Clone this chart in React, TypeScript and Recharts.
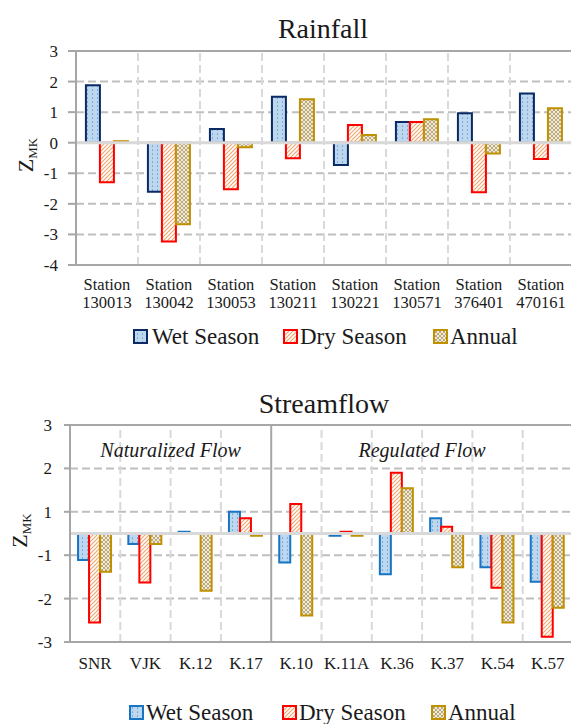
import React from 'react';
import { BarChart, Bar, XAxis, YAxis, CartesianGrid, ReferenceLine } from 'recharts';

// ---------- Rainfall data ----------
const rainStations = ['130013', '130042', '130053', '130211', '130221', '130571', '376401', '470161'];
const rainWet = [1.88, -1.6, 0.45, 1.5, -0.73, 0.68, 0.96, 1.61];
const rainDry = [-1.29, -3.23, -1.52, -0.51, 0.58, 0.68, -1.62, -0.53];
const rainAnnual = [0.05, -2.67, -0.15, 1.42, 0.25, 0.77, -0.35, 1.13];
const rainTicks = [3, 2, 1, 0, -1, -2, -3, -4];

// ---------- Streamflow data (values as read against the printed axis labels) ----------
const flowStations = ['SNR', 'VJK', 'K.12', 'K.17', 'K.10', 'K.11A', 'K.36', 'K.37', 'K.54', 'K.57'];
const flowWet = [-1.11, -0.48, 0.08, 1.0, -1.17, -0.1, -1.44, 0.7, -1.28, -1.61];
const flowDry = [-2.55, -1.63, 0, 0.7, 1.18, 0.08, 1.9, 0.31, -1.75, -2.88];
const flowAnnual = [-1.38, -0.48, -1.82, -0.1, -2.39, -0.1, 1.54, -1.28, -2.55, -2.21];
const flowTickLabels = [3, 2, 1, -1, -2, -3];

const seriesNames = ['Wet Season', 'Dry Season', 'Annual'];

// The printed streamflow axis has no "0" label: the zero line sits midway between 1 and -1.
const toAxis = (v: number) => (v >= 1 ? v - 0.5 : v <= -1 ? v + 0.5 : v / 2);
const fromAxis = (a: number) => (a >= 0.5 ? a + 0.5 : a <= -0.5 ? a - 0.5 : a * 2);

const rainData = rainStations.map((s, i) => ({
  station: s,
  wet: rainWet[i],
  dry: rainDry[i],
  annual: rainAnnual[i],
}));

const flowData = flowStations.map((s, i) => ({
  station: s,
  wet: toAxis(flowWet[i]),
  dry: toAxis(flowDry[i]),
  annual: toAxis(flowAnnual[i]),
}));

const FONT = '"Liberation Serif", "Times New Roman", Times, "DejaVu Serif", serif';
const TXT = '#1a1a1a';
const AXIS = '#A6A6A6';
const HGRID = '#BFBFBF';
const VGRID = '#D9D9D9';

const navy = '#0B2A63';
const blue = '#1874C4';
const red = '#FF0000';
const gold = '#BF9000';

const fs = (size: number, extra: any = {}) => ({ fontFamily: FONT, fontSize: size, ...extra });

const Patterns = () => (
  <svg width={0} height={0} style={{ position: 'absolute', left: 0, top: 0 }}>
    <defs>
      <pattern id="dotsBlue" patternUnits="userSpaceOnUse" width={5} height={4}>
        <rect width={5} height={4} fill="#BDD7EE" />
        <circle cx={2.5} cy={2} r={0.6} fill="#2E75B6" />
      </pattern>
      <pattern id="hatchRed" patternUnits="userSpaceOnUse" width={4} height={4}>
        <rect width={4} height={4} fill="#FFFFFF" />
        <path d="M-1,1 l2,-2 M0,4 l4,-4 M3,5 l2,-2" stroke="#F0A870" strokeWidth={1.2} />
      </pattern>
      <pattern id="crossGold" patternUnits="userSpaceOnUse" width={4} height={4}>
        <rect width={4} height={4} fill="#F4ECD2" />
        <path d="M0,0 L4,4 M4,0 L0,4" stroke="#A99870" strokeWidth={0.8} />
      </pattern>
    </defs>
  </svg>
);

const ZLabel = (dx: number) => (props: any) => {
  const vb = props.viewBox || {};
  const cx = vb.x + dx;
  const cy = vb.y + vb.height / 2 - 3;
  return (
    <text
      x={cx}
      y={cy}
      transform={`rotate(-90, ${cx}, ${cy})`}
      textAnchor="middle"
      style={fs(22)}
      fill={TXT}
    >
      Z
      <tspan style={fs(13)} dy={4}>
        MK
      </tspan>
    </text>
  );
};

const RainTick = (props: any) => {
  const { x, y, payload } = props;
  return (
    <g>
      <text x={x} y={y + 25} textAnchor="middle" style={fs(16.5)} fill={TXT}>
        Station
      </text>
      <text x={x} y={y + 43} textAnchor="middle" style={fs(16.5)} fill={TXT}>
        {payload.value}
      </text>
    </g>
  );
};

const FlowTick = (props: any) => {
  const { x, y, payload } = props;
  return (
    <text x={x} y={y + 27} textAnchor="middle" style={fs(17)} fill={TXT}>
      {payload.value}
    </text>
  );
};

const Note = (text: string) => (props: any) => {
  const vb = props.viewBox || {};
  return (
    <text x={vb.x} y={vb.y + 32} textAnchor="middle" style={fs(20, { fontStyle: 'italic' })} fill={TXT}>
      {text}
    </text>
  );
};

type LegendItem = { icon: number; text: number; stroke: string; fill: string; label: string };

const LegendSvg = ({ top, baseline, items }: { top: number; baseline: number; items: LegendItem[] }) => (
  <svg width={571} height={40} style={{ position: 'absolute', left: 0, top }}>
    {items.map((it) => (
      <g key={it.label}>
        <rect
          x={it.icon}
          y={baseline - 14}
          width={13}
          height={13}
          fill={it.fill}
          stroke={it.stroke}
          strokeWidth={2}
        />
        <text x={it.text} y={baseline} style={fs(23)} fill={TXT}>
          {it.label}
        </text>
      </g>
    ))}
  </svg>
);

export default function App() {
  return (
    <div
      style={{
        position: 'absolute',
        left: 0,
        top: 0,
        width: 571,
        height: 724,
        overflow: 'hidden',
        background: '#ffffff',
        fontFamily: FONT,
      }}
    >
      <Patterns />

      {/* Rainfall */}
      <div style={{ position: 'absolute', left: 0, top: 0 }}>
        <svg width={571} height={45} style={{ position: 'absolute', left: 0, top: 0 }}>
          <text x={323} y={38} textAnchor="middle" style={fs(28)} fill={TXT}>
            Rainfall
          </text>
        </svg>
        <BarChart
          width={586}
          height={315}
          data={rainData}
          margin={{ top: 51, right: 14, left: 16, bottom: 0 }}
          barCategoryGap="16%"
          barGap={0}
        >
          <CartesianGrid vertical={false} stroke={HGRID} strokeDasharray="8 4" strokeWidth={2} />
          <XAxis
            dataKey="station"
            interval={0}
            height={50}
            tickLine={false}
            tickSize={0}
            tickMargin={0}
            axisLine={{ stroke: AXIS, strokeWidth: 2 }}
            tick={<RainTick />}
          />
          <YAxis
            domain={[-4, 3]}
            ticks={rainTicks}
            interval={0}
            width={60}
            tickSize={8}
            tickMargin={10}
            tickLine={{ stroke: AXIS, strokeWidth: 2 }}
            axisLine={{ stroke: AXIS, strokeWidth: 2 }}
            tick={{ style: fs(17), fill: TXT }}
            label={{ content: ZLabel(17) }}
          />
          {rainStations.slice(1).map((s) => (
            <ReferenceLine
              key={s}
              x={s}
              position="start"
              stroke={VGRID}
              strokeWidth={2}
              strokeDasharray="8 4"
            />
          ))}
          <Bar dataKey="wet" name={seriesNames[0]} fill="url(#dotsBlue)" stroke={navy} strokeWidth={2} isAnimationActive={false} />
          <Bar dataKey="dry" name={seriesNames[1]} fill="url(#hatchRed)" stroke={red} strokeWidth={2} isAnimationActive={false} />
          <Bar dataKey="annual" name={seriesNames[2]} fill="url(#crossGold)" stroke={gold} strokeWidth={2} isAnimationActive={false} />
          <ReferenceLine y={0} stroke={VGRID} strokeWidth={3} />
          <ReferenceLine y={3} stroke={AXIS} strokeWidth={2} />
        </BarChart>
        <LegendSvg
          top={320}
          baseline={24}
          items={[
            { icon: 134, text: 152, stroke: navy, fill: 'url(#dotsBlue)', label: seriesNames[0] },
            { icon: 284, text: 300, stroke: red, fill: 'url(#hatchRed)', label: seriesNames[1] },
            { icon: 434, text: 450, stroke: gold, fill: 'url(#crossGold)', label: seriesNames[2] },
          ]}
        />
      </div>

      {/* Streamflow */}
      <div style={{ position: 'absolute', left: 0, top: 380 }}>
        <svg width={571} height={45} style={{ position: 'absolute', left: 0, top: 0 }}>
          <text x={324} y={33} textAnchor="middle" style={fs(28)} fill={TXT}>
            Streamflow
          </text>
        </svg>
        <BarChart
          width={586}
          height={302}
          data={flowData}
          margin={{ top: 45, right: 13, left: 15, bottom: 0 }}
          barCategoryGap="16%"
          barGap={0}
        >
          <CartesianGrid vertical={false} stroke={HGRID} strokeDasharray="8 4" strokeWidth={2} />
          <XAxis
            dataKey="station"
            interval={0}
            height={40}
            tickLine={false}
            tickSize={0}
            tickMargin={0}
            axisLine={{ stroke: AXIS, strokeWidth: 2 }}
            tick={<FlowTick />}
          />
          <YAxis
            domain={[toAxis(-3), toAxis(3)]}
            ticks={flowTickLabels.map(toAxis)}
            tickFormatter={(a: number) => String(Math.round(fromAxis(a)))}
            interval={0}
            width={55}
            tickSize={6}
            tickMargin={12}
            tickLine={{ stroke: AXIS, strokeWidth: 2 }}
            axisLine={{ stroke: AXIS, strokeWidth: 2 }}
            tick={{ style: fs(17), fill: TXT }}
            label={{ content: ZLabel(12) }}
          />
          {flowStations.slice(1).map((s) =>
            s === 'K.10' ? null : (
              <ReferenceLine
                key={s}
                x={s}
                position="start"
                stroke={VGRID}
                strokeWidth={2}
                strokeDasharray="8 4"
              />
            )
          )}
          <ReferenceLine x="VJK" position="end" stroke="none" label={Note('Naturalized Flow')} />
          <ReferenceLine x="K.36" position="end" stroke="none" label={Note('Regulated Flow')} />
          <Bar dataKey="wet" name={seriesNames[0]} fill="url(#dotsBlue)" stroke={blue} strokeWidth={2} isAnimationActive={false} />
          <Bar dataKey="dry" name={seriesNames[1]} fill="url(#hatchRed)" stroke={red} strokeWidth={2} isAnimationActive={false} />
          <Bar dataKey="annual" name={seriesNames[2]} fill="url(#crossGold)" stroke={gold} strokeWidth={2} isAnimationActive={false} />
          <ReferenceLine y={0} stroke={VGRID} strokeWidth={3} />
          <ReferenceLine x="K.17" position="end" stroke={AXIS} strokeWidth={2} />
          <ReferenceLine y={toAxis(3)} stroke={AXIS} strokeWidth={2} />
        </BarChart>
        <LegendSvg
          top={318}
          baseline={22}
          items={[
            { icon: 130, text: 146, stroke: blue, fill: 'url(#dotsBlue)', label: seriesNames[0] },
            { icon: 283, text: 299, stroke: red, fill: 'url(#hatchRed)', label: seriesNames[1] },
            { icon: 432, text: 448, stroke: gold, fill: 'url(#crossGold)', label: seriesNames[2] },
          ]}
        />
      </div>
    </div>
  );
}
